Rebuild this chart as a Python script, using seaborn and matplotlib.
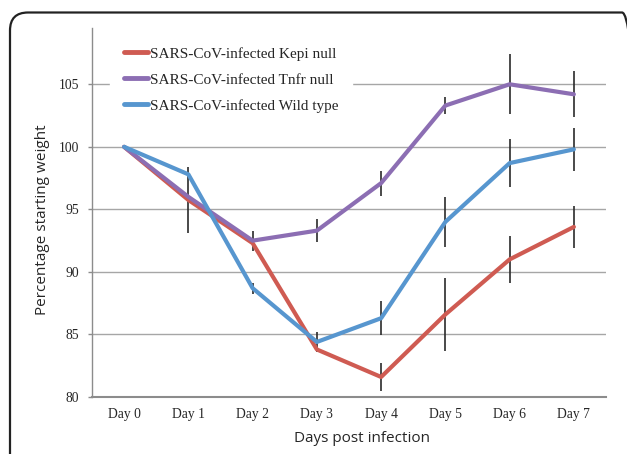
import numpy as np
import pandas as pd
import matplotlib
matplotlib.use("Agg")
import matplotlib.pyplot as plt
import matplotlib.patches as mpatches
from matplotlib.transforms import IdentityTransform
import seaborn as sns

days = ["Day 0", "Day 1", "Day 2", "Day 3", "Day 4", "Day 5", "Day 6", "Day 7"]
series_names = ["SARS-CoV-infected Kepi null",
                "SARS-CoV-infected Tnfr null",
                "SARS-CoV-infected Wild type"]
kepi = [100, 95.75, 92.3, 83.8, 81.6, 86.6, 91.0, 93.6]
kepi_err = [0, 2.6, 0, 0, 1.1, 2.9, 1.9, 1.7]
tnfr = [100, 96.0, 92.5, 93.3, 97.1, 103.3, 105.0, 104.2]
tnfr_err = [0, 0, 0.8, 0.9, 1.0, 0.7, 2.4, 1.85]
wt = [100, 97.8, 88.7, 84.4, 86.3, 94.0, 98.7, 99.8]
wt_err = [0, 0, 0.45, 0.8, 1.35, 2.0, 1.9, 1.7]
y_ticks = [80, 85, 90, 95, 100, 105]
colors = ["#CF5B52", "#8C6EB3", "#5796CF"]

x_pos = np.arange(len(days))
df = pd.DataFrame({
    "pos": np.concatenate([x_pos] * 3),
    "weight": kepi + tnfr + wt,
    "series": np.repeat(series_names, len(days)),
})

sns.set_style("white")
serif = ["Liberation Serif", "DejaVu Serif"]
sans = ["Open Sans", "DejaVu Sans"]

fig = plt.figure(figsize=(6.27, 4.54), dpi=100)
ax = fig.add_axes([92 / 627, 57 / 454, 514 / 627, 369 / 454])

# error bars (beneath lines)
for vals, errs in [(kepi, kepi_err), (tnfr, tnfr_err), (wt, wt_err)]:
    v = np.array(vals, float)
    e = np.array(errs, float)
    m = e > 0
    ax.errorbar(x_pos[m], v[m], yerr=e[m], fmt="none", ecolor="#2b2b2b",
                elinewidth=1.2, capsize=0, zorder=2)

sns.lineplot(data=df, x="pos", y="weight", hue="series", hue_order=series_names,
             palette=colors, linewidth=3.0, ax=ax, zorder=3, legend=True)

ax.set_xlim(-0.5, len(days) - 0.5)
ax.set_ylim(80, 109.5)
ax.set_yticks(y_ticks)
ax.set_yticklabels([str(t) for t in y_ticks], fontfamily=serif, fontsize=9.8)
ax.set_xticks(x_pos)
ax.set_xticklabels(days, fontfamily=serif, fontsize=9.8)
ax.set_xticks(np.arange(-0.5, len(days)), minor=True)
ax.tick_params(axis="x", which="major", length=0, pad=8)
ax.tick_params(axis="x", which="minor", length=4, width=1, color="#8c8c8c", direction="out")
ax.tick_params(axis="y", length=3, width=1, color="#8c8c8c", direction="out", pad=6, left=True)
ax.set_xlabel("")
ax.set_ylabel("")

ax.yaxis.grid(True, color="#a6a6a6", linewidth=1.0)
ax.xaxis.grid(False)
ax.set_axisbelow(True)
for s in ["top", "right"]:
    ax.spines[s].set_visible(False)
ax.spines["left"].set_color("#8c8c8c")
ax.spines["left"].set_linewidth(1.0)
ax.spines["bottom"].set_color("#8c8c8c")
ax.spines["bottom"].set_linewidth(1.5)

handles, labels = ax.get_legend_handles_labels()
leg = ax.legend(handles, labels, loc="upper left",
                bbox_to_anchor=(110 / 627, 1 - 33 / 454), bbox_transform=fig.transFigure,
                prop={"family": serif, "size": 11}, frameon=True, facecolor="white",
                edgecolor="white", framealpha=1, fancybox=False, borderpad=0.9,
                borderaxespad=0, handlelength=1.6, handletextpad=0.1, labelspacing=0.81)
for h in leg.get_lines():
    h.set_linewidth(3.5)
leg.set_zorder(5)

fig.text(43 / 627, 1 - 220 / 454, "Percentage starting weight", rotation=90,
         ha="center", va="center", fontfamily=sans, fontsize=11)
fig.text(362 / 627, 1 - 439 / 454, "Days post infection",
         ha="center", va="center", fontfamily=sans, fontsize=11)

frame = mpatches.FancyBboxPatch((10, -40), 630, 40 + 454 - 12.5,
                                boxstyle="round,pad=0,rounding_size=18",
                                transform=IdentityTransform(), fill=False,
                                edgecolor="#222222", linewidth=1.6)
fig.add_artist(frame)

fig.savefig("out.png", dpi=100)
